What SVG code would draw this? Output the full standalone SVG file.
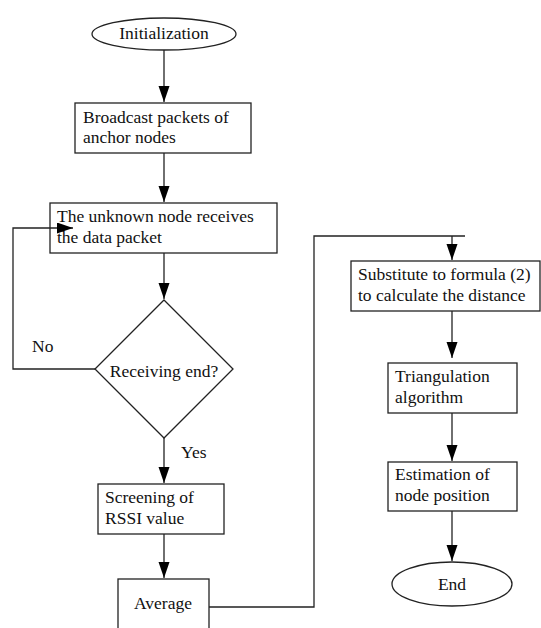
<svg xmlns="http://www.w3.org/2000/svg" width="541" height="628" viewBox="0 0 541 628">
<defs>
<marker id="ah" markerUnits="userSpaceOnUse" markerWidth="17" markerHeight="12" refX="16" refY="5.5" orient="auto">
<path d="M0,0 L16,5.5 L0,11 Z" fill="#000"/>
</marker>
<style>
.s{fill:#fff;stroke:#222;stroke-width:1.3}
.c{fill:none;stroke:#222;stroke-width:1.3}
.m{text-anchor:middle}
</style>
</defs>
<rect width="541" height="628" fill="#fff"/>
<g font-family="Tinos, 'Times New Roman', 'Liberation Serif', 'Noto Serif', 'DejaVu Serif', Times, serif" font-size="17.5" fill="#111">
<g id="init">
<ellipse class="s" cx="164" cy="34" rx="72" ry="16"/>
<text class="m" x="164" y="39">Initialization</text>
</g>
<g id="broadcast">
<rect class="s" x="75" y="103" width="176" height="50"/>
<text x="83" y="123">Broadcast packets of</text>
<text x="83" y="143">anchor nodes</text>
</g>
<g id="unknown">
<rect class="s" x="50" y="203" width="227" height="50"/>
<text x="57" y="222">The unknown node receives</text>
<text x="57" y="243">the data packet</text>
</g>
<g id="decision">
<path class="s" d="M164,300 L233,369 L164,438 L95,369 Z"/>
<text class="m" x="164" y="377">Receiving end?</text>
</g>
<g id="screening">
<rect class="s" x="98" y="484" width="126" height="50"/>
<text x="105" y="503">Screening of</text>
<text x="105" y="524">RSSI value</text>
</g>
<g id="average">
<rect class="s" x="118" y="579" width="91" height="60"/>
<text class="m" x="163" y="609">Average</text>
</g>
<g id="substitute">
<rect class="s" x="351" y="261" width="189" height="50"/>
<text x="358" y="280">Substitute to formula (2)</text>
<text x="358" y="301">to calculate the distance</text>
</g>
<g id="triangulation">
<rect class="s" x="388" y="363" width="129" height="50"/>
<text x="395" y="382">Triangulation</text>
<text x="395" y="403">algorithm</text>
</g>
<g id="estimation">
<rect class="s" x="388" y="462" width="129" height="49"/>
<text x="395" y="480">Estimation of</text>
<text x="395" y="501">node position</text>
</g>
<g id="end">
<ellipse class="s" cx="452" cy="584" rx="60" ry="22"/>
<text class="m" x="452" y="590">End</text>
</g>
<g id="connectors">
<path class="c" d="M164,50 V102" marker-end="url(#ah)"/>
<path class="c" d="M164,153 V202" marker-end="url(#ah)"/>
<path class="c" d="M164,253 V299" marker-end="url(#ah)"/>
<path class="c" d="M95,369 H13 V228 H73" marker-end="url(#ah)"/>
<path class="c" d="M164,438 V483" marker-end="url(#ah)"/>
<path class="c" d="M164,534 V578" marker-end="url(#ah)"/>
<path class="c" d="M209,607 H314 V236 H465"/>
<path class="c" d="M452,236 V260" marker-end="url(#ah)"/>
<path class="c" d="M452,311 V358" marker-end="url(#ah)"/>
<path class="c" d="M452,413 V461" marker-end="url(#ah)"/>
<path class="c" d="M452,511 V561" marker-end="url(#ah)"/>
<text x="32" y="352">No</text>
<text x="181" y="458">Yes</text>
</g>
</g>
</svg>
